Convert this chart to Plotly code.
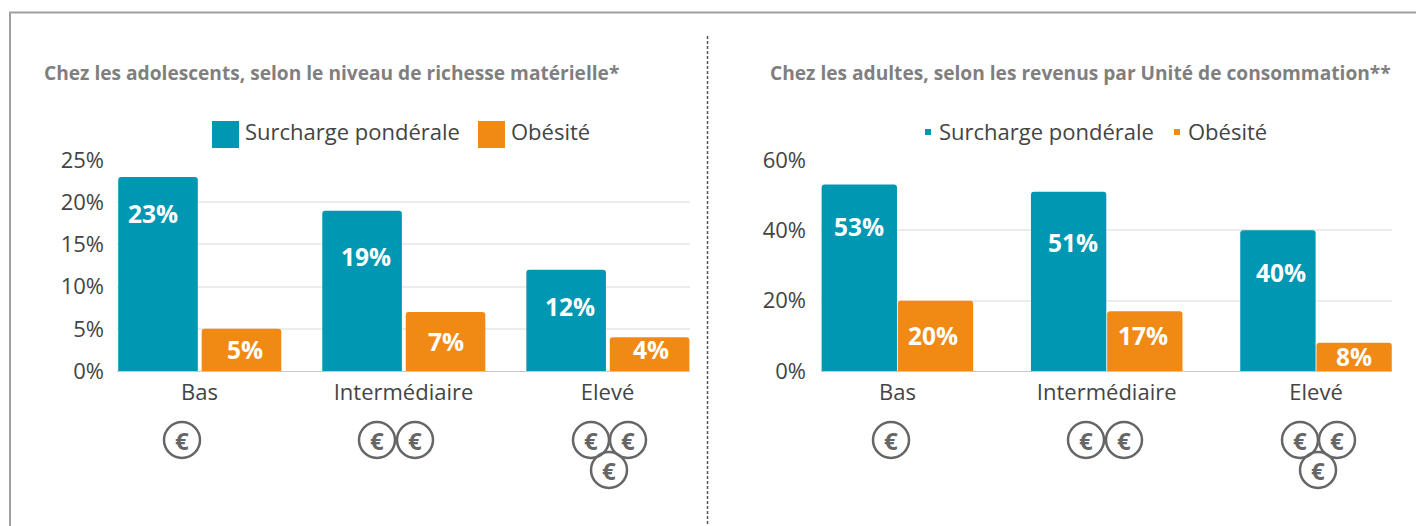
import plotly.graph_objects as go

categories = ["Bas", "Intermédiaire", "Elevé"]
series_names = ["Surcharge pondérale", "Obésité"]
ado_surcharge = [23, 19, 12]
ado_obesite = [5, 7, 4]
adu_surcharge = [53, 51, 40]
adu_obesite = [20, 17, 8]
ado_ticks = [0, 5, 10, 15, 20, 25]
adu_ticks = [0, 20, 40, 60]
title_ado = "Chez les adolescents, selon le niveau de richesse matérielle*"
title_adu = "Chez les adultes, selon les revenus par Unité de consommation**"
coin_counts = [1, 2, 3]

TEAL = "#0097b2"
ORANGE = "#f08a14"
W, H = 1416, 526
FONT = "Open Sans"
TEXT = "#444444"

def px(x): return x / W
def py(y): return 1 - y / H

fig = go.Figure()
for vals, col, name, off in [(ado_surcharge, TEAL, series_names[0], -0.398), (ado_obesite, ORANGE, series_names[1], 0.011)]:
    fig.add_bar(x=categories, y=vals, width=0.39, offset=off,
                marker=dict(color=col, cornerradius=3, line_width=0), name=name,
                xaxis="x", yaxis="y", hoverinfo="x+y")
for vals, col, name, off in [(adu_surcharge, TEAL, series_names[0], -0.362), (adu_obesite, ORANGE, series_names[1], 0.002)]:
    fig.add_bar(x=categories, y=vals, width=0.36, offset=off,
                marker=dict(color=col, cornerradius=3, line_width=0), name=name,
                xaxis="x2", yaxis="y2", hoverinfo="x+y")

ann = []
shapes = []

def label(xref, yref, cat, val, xshift, yshift):
    ann.append(dict(x=cat, y=val, xref=xref, yref=yref, text=f"<b>{val}%</b>", showarrow=False,
                    xshift=xshift, yshift=yshift, yanchor="middle", xanchor="center",
                    font=dict(family=FONT, size=24.5, color="white")))

for c, v, o, s in zip(categories, ado_surcharge, [37, 46, 37], [-46, -38, -38]):
    label("x", "y", c, v, s, -o)
for c, v, o, s in zip(categories, ado_obesite, [21, 30, 12], [46, 42, 43]):
    label("x", "y", c, v, s, -o)
for c, v, o, s in zip(categories, adu_surcharge, [42, 51, 42], [-38, -34, -35]):
    label("x2", "y2", c, v, s, -o)
for c, v, o, s in zip(categories, adu_obesite, [35, 24, 14], [36, 36, 38]):
    label("x2", "y2", c, v, s, -o)

def text(x, y, s, size, color=TEXT, anchor="left"):
    ann.append(dict(x=px(x), y=py(y), xref="paper", yref="paper", text=s, showarrow=False,
                    xanchor=anchor, yanchor="middle", font=dict(family=FONT, size=size, color=color)))

def rect(x0, y0, x1, y1, **kw):
    shapes.append(dict(type="rect", xref="paper", yref="paper", x0=px(x0), x1=px(x1), y0=py(y0), y1=py(y1), **kw))

text(42, 73, f"<b>{title_ado}</b>", 19.15, "#7f7f7f")
text(768, 73, f"<b>{title_adu}</b>", 19.15, "#7f7f7f")

# legends
rect(212, 121, 239, 148, fillcolor=TEAL, line_width=0)
text(243, 131, series_names[0], 22)
rect(478, 121, 505, 148, fillcolor=ORANGE, line_width=0)
text(509, 131, series_names[1], 22)
rect(925, 129, 931, 135, fillcolor=TEAL, line_width=0)
text(937, 131, series_names[0], 22)
rect(1174, 129, 1180, 135, fillcolor=ORANGE, line_width=0)
text(1186, 131, series_names[1], 22)

# frame and divider
shapes.append(dict(type="path", xref="paper", yref="paper",
                   path=f"M {px(10)} 0 L {px(10)} {py(12.5)} L 1 {py(12.5)}",
                   line=dict(color="#a0a0a0", width=2)))
shapes.append(dict(type="line", xref="paper", yref="paper", x0=px(707.5), x1=px(707.5), y0=py(36), y1=0,
                   line=dict(color="#555555", width=1.5, dash="3px,2px")))

# coins
def coin(cx, cy):
    r = 18
    shapes.append(dict(type="circle", xref="paper", yref="paper", x0=px(cx - r), x1=px(cx + r),
                       y0=py(cy - r), y1=py(cy + r), line=dict(color="#666666", width=2.5)))
    ann.append(dict(x=px(cx), y=py(cy), xref="paper", yref="paper", text="<b>€</b>", showarrow=False,
                    xanchor="center", yanchor="middle", font=dict(family=FONT, size=24, color="#666666")))

def coin_group(cx, n):
    if n == 1:
        coin(cx, 440)
    elif n == 2:
        coin(cx - 19, 440); coin(cx + 19, 440)
    else:
        coin(cx - 18, 440); coin(cx + 19, 440); coin(cx, 470)

for cx, n in zip([182, 396, 609], coin_counts):
    coin_group(cx, n)
for cx, n in zip([891, 1105, 1318], coin_counts):
    coin_group(cx, n)

xbase = dict(type="category", showgrid=False, ticks="", showline=True, linecolor="#c8c8c8", linewidth=1,
             tickfont=dict(family=FONT, size=22, color=TEXT), ticklabelstandoff=2)
ybase = dict(showgrid=True, gridcolor="#ececec", gridwidth=1.5, zeroline=False, showline=False, ticks="",
             tickfont=dict(family=FONT, size=22, color=TEXT))

fig.update_layout(
    width=W, height=H, margin=dict(l=0, r=0, t=0, b=0, pad=0, autoexpand=False), autosize=False,
    paper_bgcolor="white", plot_bgcolor="white", showlegend=False,
    font=dict(family=FONT),
    xaxis=dict(xbase, domain=[px(117), px(690)], range=[-0.404, 2.404], anchor="y"),
    yaxis=dict(ybase, domain=[py(371), py(160)], range=[0, 25], tickmode="array", tickvals=ado_ticks,
               ticktext=[f"{t}%" for t in ado_ticks], anchor="x", ticklabelstandoff=12),
    xaxis2=dict(xbase, domain=[px(821), px(1392)], range=[-0.365, 2.363], anchor="y2"),
    yaxis2=dict(ybase, domain=[py(371), py(160)], range=[0, 60], tickmode="array", tickvals=adu_ticks,
                ticktext=[f"{t}%" for t in adu_ticks], anchor="x2", ticklabelstandoff=14),
    annotations=ann, shapes=shapes,
)
fig.write_html("out.html", config=dict(displayModeBar=False),
               post_script="document.body.style.margin='0';document.body.style.overflow='hidden';")
